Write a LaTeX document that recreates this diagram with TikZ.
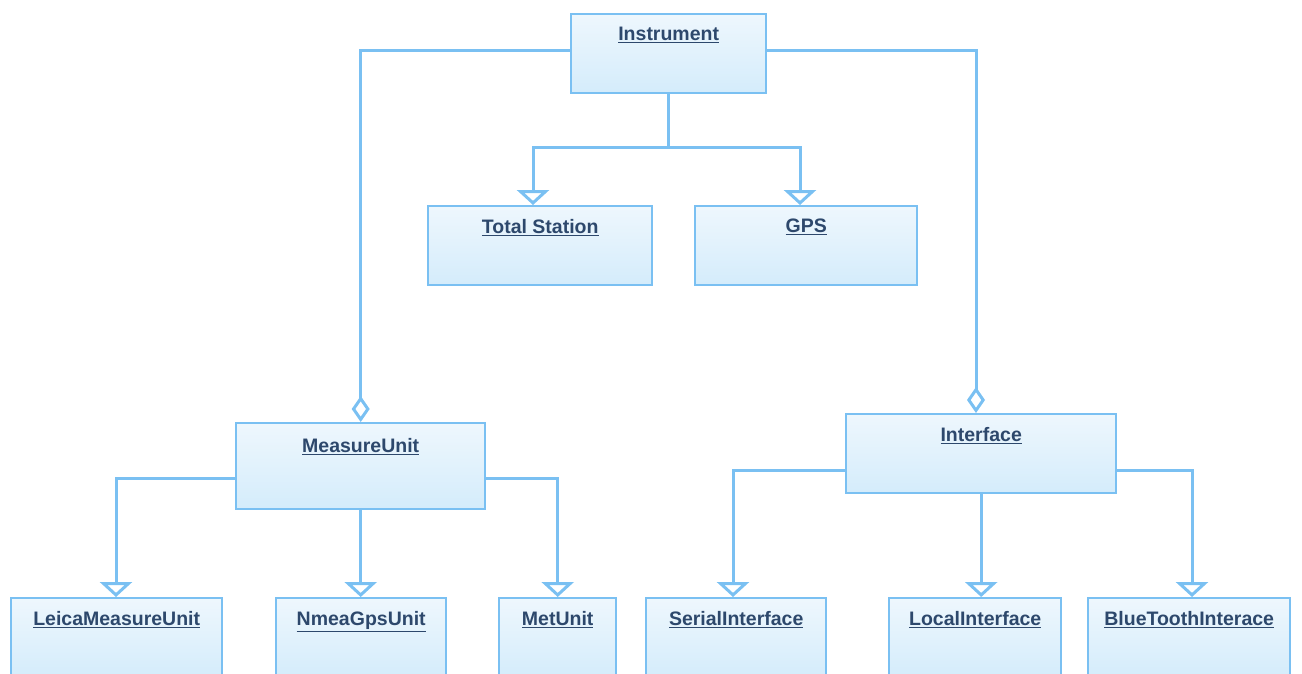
\documentclass[tikz,border=0pt]{standalone}
\usepackage{fontspec}
\setmainfont{Liberation Sans}
\usetikzlibrary{arrows.meta,positioning}
\definecolor{umlline}{RGB}{122,192,242}
\definecolor{umltop}{RGB}{238,247,253}
\definecolor{umlbot}{RGB}{212,236,251}
\definecolor{umltext}{RGB}{45,72,108}
\tikzset{
  umlbox/.style = {draw = umlline, line width = 2.4pt, top color = umltop, bottom color = umlbot,
                   anchor = north west, minimum height = 79pt, inner sep = 0pt},
  umlname/.style = {anchor = north, text = umltext, font = \fontsize{19.5}{22}\selectfont\bfseries, inner sep = 0pt},
  umllink/.style = {draw = umlline, line width = 3pt},
  inherit/.style = {umllink, -{Triangle[open, length = 15pt, width = 32pt]}},
  partof/.style = {umllink, -{Diamond[open, length = 26pt, width = 18pt]}}
}
\newcommand{\umlclass}[5]{%
  \node[umlbox, minimum width = #3pt] (#1) at (#2) {};
  \node[umlname, below = 14pt of #1.north] (#1T) {\underline{#4}};
}

\begin{document}
\begin{tikzpicture}[x = 1pt, y = -1pt]
\useasboundingbox (0,0) rectangle (1302,673);
\clip (0,0) rectangle (1302,673);
% classes
\umlclass{instr}{570,13}{195}{Instrument}{}
\umlclass{total}{427,205}{224}{Total Station}{}
\umlclass{gps}{694,205}{222}{GPS}{}
\node[umlbox, minimum width = 249pt, minimum height = 86pt] (meas) at (235,422) {};
\node[umlname, below = 16pt of meas.north] (measT) {\underline{MeasureUnit}};
\umlclass{iface}{845,413}{270}{Interface}{}
\umlclass{leica}{10,597}{211}{LeicaMeasureUnit}{}
\umlclass{nmea}{275,597}{170}{NmeaGpsUnit}{}
\umlclass{met}{498,597}{117}{MetUnit}{}
\umlclass{serial}{645,597}{180}{SerialInterface}{}
\umlclass{local}{888,597}{172}{LocalInterface}{}
\umlclass{blue}{1087,597}{202}{BlueToothInterace}{}
% generalisation
\coordinate (fork) at (instr.south |- 0,147);
\path[umllink] (instr.south) -- (fork);
\path[inherit] (fork) -| (total.north -| 533,0);
\path[inherit] (fork) -| (gps.north -| 800,0);
\path[inherit] (meas.west |- 0,478) -| (leica.north -| 116,0);
\path[inherit] (meas.south) -- (nmea.north -| meas.south);
\path[inherit] (meas.east |- 0,478) -| (met.north);
\path[inherit] (iface.west |- 0,470) -| (serial.north -| 733,0);
\path[inherit] (iface.south) -- (local.north -| iface.south);
\path[inherit] (iface.east |- 0,470) -| (blue.north -| 1192,0);
% aggregation
\path[partof] (instr.west |- 0,50) -| (meas.north);
\path[partof] (instr.east |- 0,50) -| (iface.north -| 976,0);
\end{tikzpicture}
\end{document}
